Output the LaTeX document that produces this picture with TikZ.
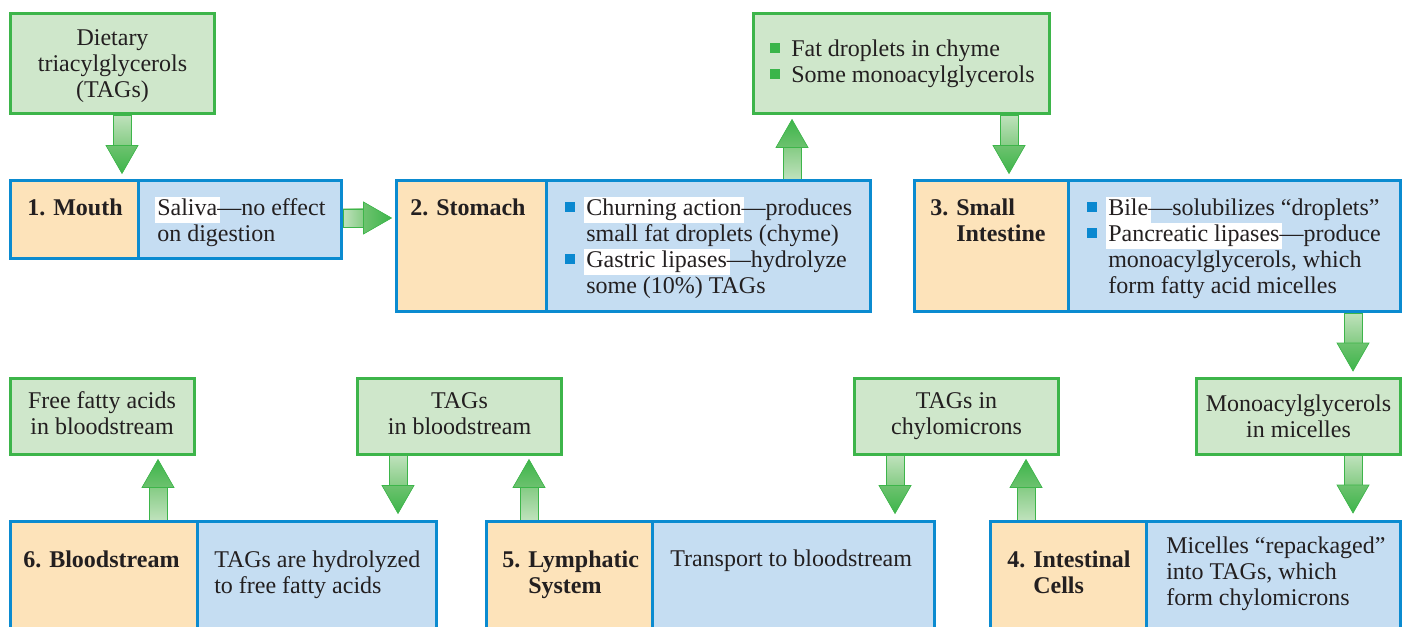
\documentclass[tikz,border=0pt]{standalone}
\usepackage{fontspec}
\setmainfont{Liberation Serif}
\usetikzlibrary{calc,fit}
\pgfdeclarelayer{bg}
\pgfsetlayers{bg,main}
\definecolor{gfill}{HTML}{CFE7CB}
\definecolor{gborder}{HTML}{3DB54A}
\definecolor{ofill}{HTML}{FDE3BA}
\definecolor{bfill}{HTML}{C5DDF2}
\definecolor{bborder}{HTML}{0B8BD0}
\definecolor{bbullet}{HTML}{0A88D0}
\definecolor{gbullet}{HTML}{3AB54A}
\definecolor{txt}{HTML}{231F20}
\definecolor{alight}{HTML}{BFE2BC}
\definecolor{amid}{HTML}{86CC85}
\definecolor{ahead}{HTML}{6DC26F}
\definecolor{adark}{HTML}{3DB54A}
\newcommand\hl[1]{{\setlength\fboxsep{0pt}\kern-2pt\colorbox{white}{\kern2pt\strut#1\kern2pt}\kern-2pt}}
\newcommand\bsq[1]{\raisebox{2.25pt}{\textcolor{#1}{\rule{7.5pt}{7.5pt}}}\hspace{8.25pt}}
\newcommand\ind{\hspace*{15.75pt}}
\newcommand\garrow[3]{%
  \coordinate (gt) at (#2);
  \coordinate (gh) at (#3);
  \coordinate (gb) at ($(gh)!21pt!(gt)$);
  \path[arr,#1s] ($(gt)!6.75pt!90:(gh)$) -- ($(gb)!6.75pt!90:(gh)$) -- ($(gb)!6.75pt!-90:(gh)$) -- ($(gt)!6.75pt!-90:(gh)$) -- cycle;
  \path[arr,#1h] ($(gb)!12pt!90:(gh)$) -- (gh) -- ($(gb)!12pt!-90:(gh)$) -- cycle;
}
\begin{document}
\begin{tikzpicture}[x=0.75pt,y=-0.75pt,
  every node/.style={font=\fontsize{18}{19.5}\selectfont, text=txt},
  gbox/.style={draw=gborder, fill=gfill, line width=2.25pt, inner sep=0pt},
  obox/.style={draw=bborder, fill=ofill, line width=2.25pt, inner sep=0pt},
  bbox/.style={draw=bborder, fill=bfill, line width=2.25pt, inner sep=0pt},
  lbl/.style={anchor=north west, inner sep=0pt, align=left},
  clbl/.style={anchor=north, inner sep=0pt, align=center},
  head/.style={lbl, font=\fontsize{18}{19.5}\selectfont\bfseries},
  arr/.style={draw=adark, line width=0.5pt, line join=miter},
  dns/.style={top color=alight, bottom color=amid},
  dnh/.style={top color=ahead, bottom color=adark},
  ups/.style={top color=amid, bottom color=alight},
  uph/.style={top color=adark, bottom color=ahead},
  rts/.style={left color=alight, right color=amid},
  rth/.style={left color=ahead, right color=adark}
]
\useasboundingbox (0,0) rectangle (1403,627);
\clip (0,0) rectangle (1403,627);

% green boxes
\node[gbox, fit={(10.5,13.5) (214.5,113.5)}] (diet) {};
\node[gbox, fit={(753.5,13.5) (1049.5,113.5)}] (fat) {};
\node[gbox, fit={(10.5,378.5) (194,454)}] (ffa) {};
\node[gbox, fit={(357.5,378.5) (561.5,454)}] (tagsb) {};
\node[gbox, fit={(854.5,378.5) (1058.5,454)}] (chylo) {};
\node[gbox, fit={(1196.5,378.5) (1400.5,454)}] (mono) {};

% step boxes
\node[obox, fit={(10.5,180.5) (138.5,258.5)}] (mouthL) {};
\node[bbox, fit={(138.5,180.5) (341.5,258.5)}] (mouthR) {};
\node[obox, fit={(396.5,180.5) (546,311.5)}] (stomL) {};
\node[bbox, fit={(546,180.5) (870.5,311.5)}] (stomR) {};
\node[obox, fit={(914.5,180.5) (1068,311.5)}] (siL) {};
\node[bbox, fit={(1068,180.5) (1400.5,311.5)}] (siR) {};
\node[obox, fit={(10.5,521.5) (197,660)}] (bloodL) {};
\node[bbox, fit={(197,521.5) (436,660)}] (bloodR) {};
\node[obox, fit={(486.5,521.5) (652,660)}] (lymL) {};
\node[bbox, fit={(652,521.5) (934.5,660)}] (lymR) {};
\node[obox, fit={(990.5,521.5) (1146,660)}] (intL) {};
\node[bbox, fit={(1146,521.5) (1400.5,660)}] (intR) {};

% green box texts
\node[clbl] (tdiet) at (112.5,26.8) {\strut Dietary\\triacylglycerols\\(TAGs)};
\node[lbl] (tfat) at (770,37.8) {\strut\bsq{gbullet}Fat droplets in chyme\\\bsq{gbullet}Some monoacylglycerols};
\node[clbl] (tffa) at (102,389.8) {\strut Free fatty acids\\in bloodstream};
\node[clbl] (ttagsb) at (459.5,389.8) {\strut TAGs\\in bloodstream};
\node[clbl] (tchylo) at (956.5,389.8) {\strut TAGs in\\chylomicrons};
\node[clbl] (tmono) at (1298.5,393) {\strut Monoacylglycerols\\in micelles};

% step texts
\node[head] (t1h) at (27,196.8) {\strut 1. Mouth};
\node[lbl] (t1b) at (157,196.8) {\hl{Saliva}—no effect\\on digestion};
\node[head] (t2h) at (410,196.8) {\strut 2. Stomach};
\node[lbl] (t2b) at (565,196.8) {\strut\bsq{bbullet}\hl{Churning action}—produces\\\ind small fat droplets (chyme)\\\bsq{bbullet}\hl{Gastric lipases}—hydrolyze\\\ind some (10\%) TAGs};
\node[head] (t3h) at (930,196.8) {\strut 3. Small\\\hphantom{3. }Intestine};
\node[lbl] (t3b) at (1087,196.8) {\strut\bsq{bbullet}\hl{Bile}—solubilizes “droplets”\\\bsq{bbullet}\hl{Pancreatic lipases}—produce\\\ind monoacylglycerols, which\\\ind form fatty acid micelles};
\node[head] (t6h) at (23,548.8) {\strut 6. Bloodstream};
\node[lbl] (t6b) at (214,548.8) {\strut TAGs are hydrolyzed\\to free fatty acids};
\node[head] (t5h) at (502,548.8) {\strut 5. Lymphatic\\\hphantom{5. }System};
\node[lbl] (t5b) at (670,547.8) {\strut Transport to bloodstream};
\node[head] (t4h) at (1007,548.8) {\strut 4. Intestinal\\\hphantom{4. }Cells};
\node[lbl] (t4b) at (1166,534.8) {\strut Micelles “repackaged”\\into TAGs, which\\form chylomicrons};

% arrows
\begin{pgfonlayer}{bg}
\garrow{dn}{diet.south -| 122,0}{$(mouthL.north -| 122,0)+(0,-5.5)$}
\garrow{rt}{mouthR.east |- 0,218}{$(stomL.west |- 0,218)+(-3.5,0)$}
\garrow{up}{stomR.north -| 792,0}{$(fat.south -| 792,0)+(0,4.5)$}
\garrow{dn}{fat.south -| 1009,0}{$(siL.north -| 1009,0)+(0,-5.5)$}
\garrow{dn}{siR.south -| 1353,0}{$(mono.north -| 1353,0)+(0,-6)$}
\garrow{dn}{mono.south -| 1353,0}{$(intR.north -| 1353,0)+(0,-7)$}
\garrow{up}{intL.north -| 1026,0}{$(chylo.south -| 1026,0)+(0,4)$}
\garrow{dn}{chylo.south -| 895,0}{$(lymR.north -| 895,0)+(0,-6.5)$}
\garrow{up}{lymL.north -| 529,0}{$(tagsb.south -| 529,0)+(0,4)$}
\garrow{dn}{tagsb.south -| 398,0}{$(bloodR.north -| 398,0)+(0,-6.5)$}
\garrow{up}{bloodL.north -| 158,0}{$(ffa.south -| 158,0)+(0,4)$}
\end{pgfonlayer}
\end{tikzpicture}
\end{document}
